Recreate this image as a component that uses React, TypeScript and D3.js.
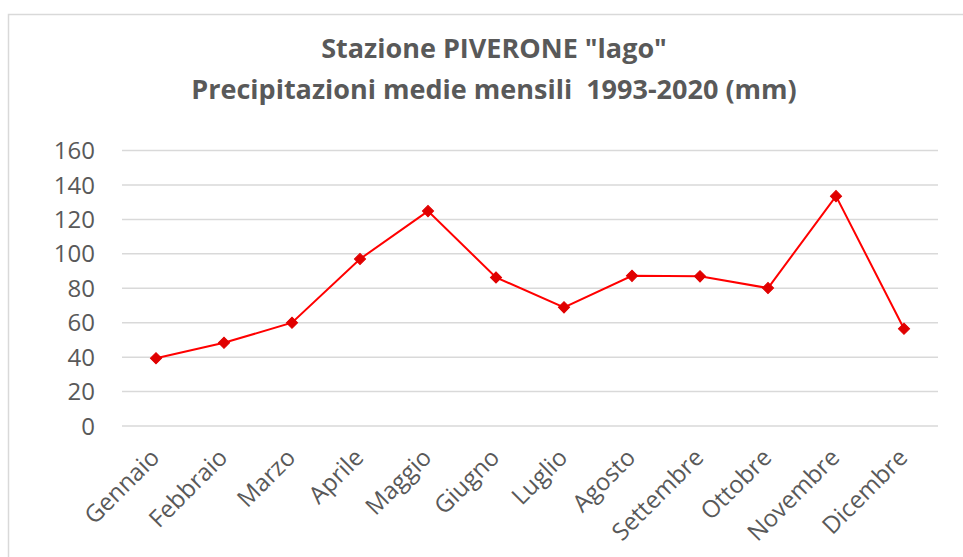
import * as d3 from "d3";

const months = ["Gennaio", "Febbraio", "Marzo", "Aprile", "Maggio", "Giugno", "Luglio", "Agosto", "Settembre", "Ottobre", "Novembre", "Dicembre"];
const rainfall = [39.3, 48.3, 60, 97, 124.8, 86.3, 68.9, 87.2, 86.9, 80.1, 133.5, 56.5];
const yTicks = [0, 20, 40, 60, 80, 100, 120, 140, 160];
const titleLines = ['Stazione PIVERONE "lago"', "Precipitazioni medie mensili  1993-2020 (mm)"];

export default function App() {
	const width = 963;
	const height = 557;
	const margin = { top: 150.5, right: 25, bottom: 131, left: 122 };

	// ---- Scales ----
	const x = d3.scaleBand().domain(months).range([margin.left, width - margin.right]);
	const y = d3.scaleLinear().domain([0, 160]).range([height - margin.bottom, margin.top]);

	const line = d3
		.line<number>()
		.x((_, i) => x(months[i])! + x.bandwidth() / 2)
		.y((d) => y(d));

	const diamond = d3.symbol().type(d3.symbolSquare).size(62)();
	const textColor = "#595959";
	const font = "'Open Sans', sans-serif";

	return (
		<svg width={width} height={height} style={{ position: "absolute", left: 0, top: 0, background: "#fff" }}>
			<rect x={8.5} y={14.5} width={1000} height={600} fill="#fff" stroke="#d9d9d9" strokeWidth={1.5} />

			{/* title */}
			{titleLines.map((t, i) => (
				<text key={t} x={494} y={58 + i * 41} textAnchor="middle" fontFamily={font} fontWeight="bold" fontSize={27} fill={textColor} xmlSpace="preserve">
					{t}
				</text>
			))}

			{/* gridlines + y labels */}
			{yTicks.map((v) => (
				<g key={v}>
					<line x1={margin.left} x2={width - margin.right} y1={y(v)} y2={y(v)} stroke="#d9d9d9" strokeWidth={1.5} />
					<text x={95} y={y(v)} dy="0.36em" textAnchor="end" fontFamily={font} fontSize={24} fill={textColor}>
						{v}
					</text>
				</g>
			))}

			{/* x labels */}
			{months.map((m) => {
				const cx = x(m)! + x.bandwidth() / 2;
				return (
					<text key={m} transform={`translate(${cx + 5},${y(0) + 33}) rotate(-45)`} textAnchor="end" fontFamily={font} fontSize={24} fill={textColor}>
						{m}
					</text>
				);
			})}

			{/* series */}
			<path d={line(rainfall) ?? ""} fill="none" stroke="#ff0000" strokeWidth={2} />
			{rainfall.map((v, i) => (
				<path key={months[i]} d={diamond} transform={`translate(${x(months[i])! + x.bandwidth() / 2},${y(v)}) rotate(45)`} fill="#e00000" stroke="#e00000" strokeWidth={1} />
			))}
		</svg>
	);
}
